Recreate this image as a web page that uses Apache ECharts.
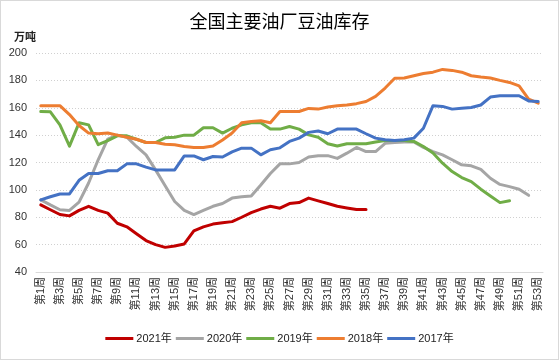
<!DOCTYPE html>
<html>
<head>
<meta charset="utf-8">
<script src="https://cdn.jsdelivr.net/npm/echarts@6/dist/echarts.min.js"></script>
<style>
html,body{margin:0;padding:0;background:#fff;}
#wrap{position:absolute;left:0;top:0;width:559px;height:360px;box-sizing:border-box;border:1px solid #d9d9d9;}
#c{position:absolute;left:-1px;top:-1px;width:559px;height:360px;}
</style>
</head>
<body>
<div id="wrap"><div id="c"></div></div>
<script>
const weeks = [];
for (let i = 1; i <= 53; i++) weeks.push('第' + i + '周');

const yTicks = [40, 60, 80, 100, 120, 140, 160, 180, 200];

const s2021 = [89, 85.5, 82, 81, 85, 88, 85, 83, 75.6, 73, 68, 63, 60, 58, 59, 60.5, 70, 73, 75, 76, 76.8, 80, 83.4, 86, 88, 86.6, 90, 90.7, 94, 92, 90, 88, 86.8, 85.6, 85.6];
const s2020 = [92.7, 89, 85.5, 85, 91, 105, 122, 137, 140, 138.5, 131.7, 125.6, 114.6, 103, 91.5, 85, 82, 85, 88, 90, 94, 95, 95.6, 103.6, 112, 119, 119, 120, 124, 125, 125, 123, 126.8, 131, 128, 128, 134, 134.6, 135, 135, 131, 128, 125.6, 122, 118.3, 117.6, 115, 108.5, 104, 102.4, 100.5, 96];
const s2019 = [157.3, 157, 147.5, 132, 149, 147.5, 133, 136, 139.5, 139.5, 137, 134.6, 134.6, 138, 138.5, 140, 140, 145.4, 145.4, 141.5, 145, 147.5, 149, 149, 144.4, 144.4, 146.3, 144.4, 140.2, 138.5, 133.7, 132, 133.7, 133.7, 133.7, 135, 136, 136, 136, 135.4, 131.7, 127, 119.5, 113.4, 109, 106, 100.5, 95.6, 90.7, 92];
const s2018 = [161.5, 161.5, 161.5, 155, 147, 141.5, 141, 141.5, 140, 138.5, 137, 134.6, 134.6, 133.4, 133, 131.7, 131, 131, 132, 136.5, 141.5, 149, 150, 150.5, 149, 157.3, 157.3, 157.3, 159.5, 159, 160.5, 161.5, 162, 163, 164.6, 168.3, 174.4, 181.5, 181.7, 183.4, 185, 186, 188, 187.3, 186, 183.4, 182.4, 181.7, 180, 178.5, 176, 166.3, 163.4];
const s2017 = [92.7, 95, 97, 97, 107, 112, 112, 114, 114, 119, 119, 116.6, 114.6, 114.6, 114.6, 124.8, 124.8, 122, 124.4, 124, 127.8, 130.5, 130.5, 125.6, 129.3, 130.7, 135.4, 137.8, 142, 143, 141, 144.4, 144.4, 144.4, 141, 137.8, 136.6, 136, 136.6, 137.8, 145, 161.5, 161, 159, 159.7, 160.2, 162, 167.8, 168.8, 168.8, 168.8, 165, 164.6];

const seriesNames = ['2021年', '2020年', '2019年', '2018年', '2017年'];
const seriesData = [s2021, s2020, s2019, s2018, s2017];
const colors = ['#C00000', '#A5A5A5', '#70AD47', '#ED7D31', '#4472C4'];

const FONT = '"Liberation Sans", "Noto Sans CJK SC", sans-serif';

const chart = echarts.init(document.getElementById('c'), null, {renderer: 'canvas'});
chart.setOption({
  animation: false,
  color: colors,
  textStyle: {fontFamily: FONT},
  title: [
    {text: '全国主要油厂豆油库存', left: 'center', top: 9,
     textStyle: {fontSize: 18, fontWeight: 'normal', color: '#000', fontFamily: FONT}},
    {text: '万吨', left: 9, top: 27,
     textStyle: {fontSize: 11, fontWeight: 'bold', color: '#222', fontFamily: FONT}}
  ],
  grid: {left: 36, right: 16, top: 53, bottom: 88, containLabel: false},
  legend: {
    data: seriesNames,
    bottom: 11,
    left: 'center',
    icon: 'rect',
    itemWidth: 28,
    itemHeight: 3,
    itemGap: 4,
    textStyle: {fontSize: 11, color: '#222', fontFamily: FONT, padding: [0, 0, 0, -2]}
  },
  xAxis: {
    type: 'category',
    data: weeks,
    boundaryGap: true,
    axisLine: {lineStyle: {color: '#d9d9d9', width: 1}},
    axisTick: {show: false},
    axisLabel: {interval: 1, rotate: 90, fontSize: 11, color: '#333', margin: 5, fontFamily: FONT}
  },
  yAxis: {
    type: 'value',
    min: yTicks[0],
    max: yTicks[yTicks.length - 1],
    interval: 20,
    axisLine: {show: false},
    axisTick: {show: false},
    axisLabel: {fontSize: 11, color: '#333', margin: 9, fontFamily: FONT},
    splitLine: {lineStyle: {color: '#d0d0d0', type: [1, 2], width: 1}}
  },
  series: seriesNames.map((n, i) => ({
    name: n,
    type: 'line',
    data: seriesData[i],
    symbol: 'none',
    smooth: false,
    lineStyle: {width: 3, color: colors[i], cap: 'round', join: 'round'},
    itemStyle: {color: colors[i]}
  }))
});
</script>
</body>
</html>
